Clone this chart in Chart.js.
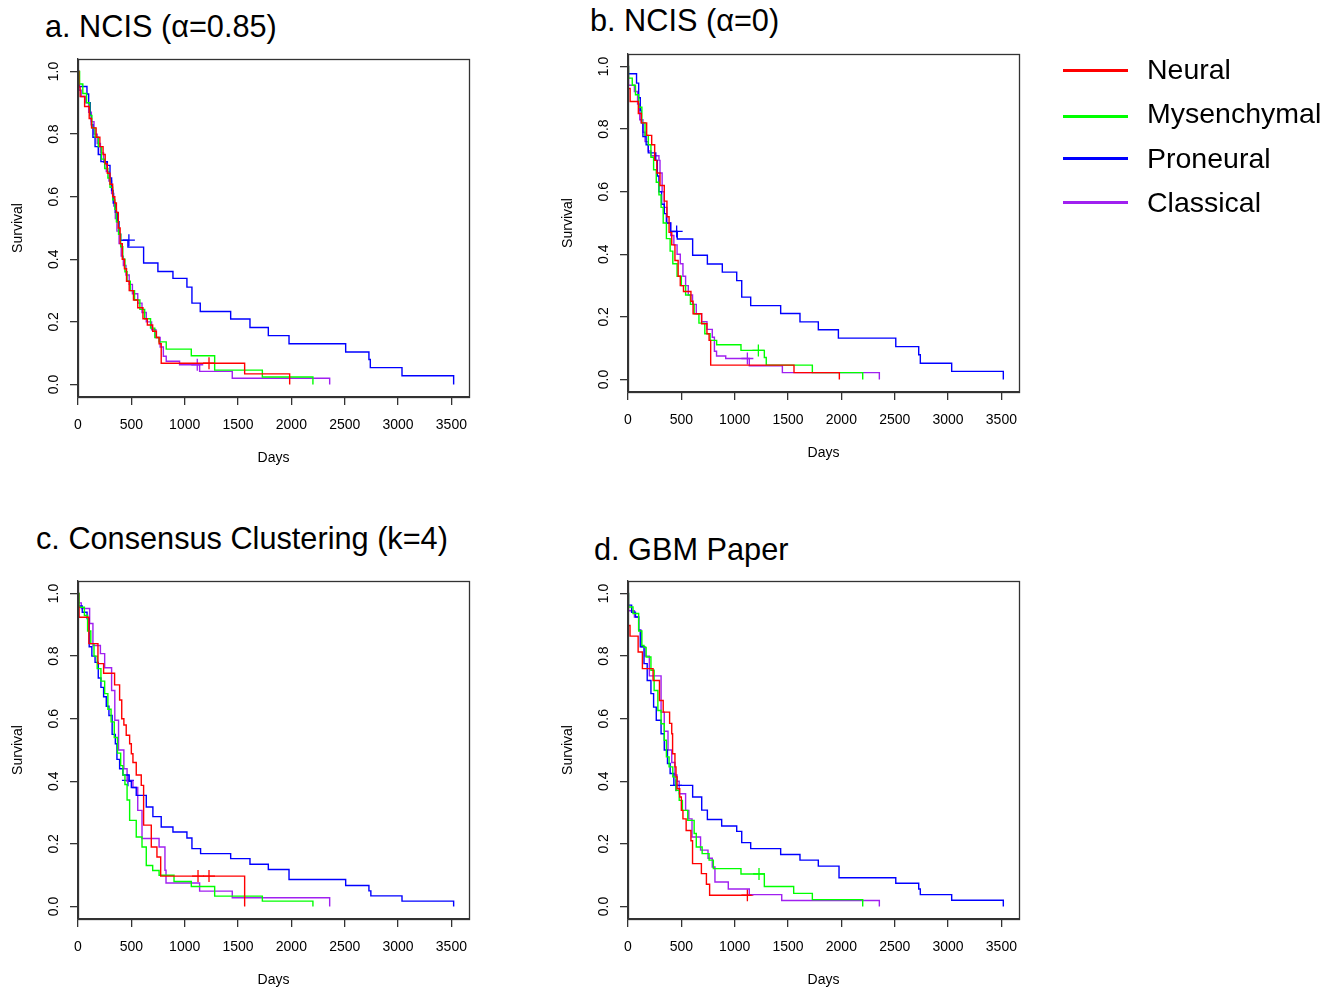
<!DOCTYPE html>
<html>
<head>
<meta charset="utf-8">
<script src="https://cdn.jsdelivr.net/npm/chart.js@4.4.0/dist/chart.umd.min.js"></script>
<style>
body { margin: 0; background: #fff; font-family: "Liberation Sans", Arial, sans-serif; }
#page { position: relative; width: 1341px; height: 989px; overflow: hidden; }
canvas { position: absolute; }
.ttl { position: absolute; font-size: 30.7px; line-height: 30px; color: #000; white-space: nowrap; }
.legline { position: absolute; left: 1063px; width: 65px; height: 3px; }
.legtxt { position: absolute; left: 1147px; font-size: 28.5px; line-height: 28.5px; color: #000; white-space: nowrap; }
</style>
</head>
<body>
<div id="page"></div>
<script>
// groups and colours
const groups = ['Neural', 'Mysenchymal', 'Proneural', 'Classical'];
const colors = ['#FF0000', '#00FF00', '#0000FF', '#A020F0'];
const titles = ['a. NCIS (\u03b1=0.85)', 'b. NCIS (\u03b1=0)', 'c. Consensus Clustering (k=4)', 'd. GBM Paper'];

const xTicks = [0, 500, 1000, 1500, 2000, 2500, 3000, 3500];
const yTicks = [0, 0.2, 0.4, 0.6, 0.8, 1.0];

// [days, survival] steps
// a. NCIS (alpha=0.85)
const aNeural = [[0,1],[8,0.95],[20,0.92],[62,0.888],[105,0.85],[127,0.82],[170,0.79],[205,0.76],[235,0.735],[255,0.705],[275,0.675],[300,0.64],[325,0.60],[345,0.58],[360,0.55],[378,0.50],[395,0.45],[415,0.40],[435,0.37],[455,0.33],[480,0.30],[520,0.27],[560,0.245],[609,0.21],[650,0.19],[700,0.17],[735,0.15],[760,0.13],[780,0.068],[1562,0.034],[1984,0]];
const aMys = [[0,1],[15,0.96],[45,0.93],[80,0.90],[110,0.86],[130,0.82],[160,0.79],[190,0.76],[220,0.72],[250,0.69],[280,0.66],[300,0.63],[325,0.59],[345,0.56],[360,0.52],[380,0.48],[400,0.44],[420,0.40],[440,0.36],[460,0.33],[490,0.30],[530,0.27],[580,0.24],[625,0.21],[680,0.18],[720,0.15],[760,0.136],[827,0.113],[1062,0.092],[1281,0.046],[1728,0.024],[2202,0]];
const aPro = [[0,1],[10,0.952],[84,0.928],[100,0.90],[115,0.86],[125,0.83],[140,0.79],[160,0.76],[190,0.735],[215,0.712],[275,0.70],[300,0.66],[315,0.62],[330,0.58],[350,0.55],[370,0.52],[385,0.48],[400,0.461],[468,0.439],[615,0.388],[749,0.361],[890,0.339],[1021,0.311],[1068,0.260],[1146,0.233],[1431,0.209],[1612,0.182],[1784,0.156],[1978,0.130],[2509,0.104],[2727,0.08],[2740,0.054],[3037,0.028],[3521,0]];
const aClass = [[0,1],[10,0.94],[30,0.92],[70,0.90],[100,0.87],[125,0.84],[150,0.80],[180,0.77],[210,0.74],[240,0.71],[265,0.68],[290,0.65],[315,0.61],[335,0.57],[350,0.53],[365,0.49],[385,0.45],[405,0.41],[425,0.38],[450,0.35],[480,0.32],[510,0.29],[560,0.26],[600,0.23],[640,0.20],[690,0.175],[730,0.15],[770,0.12],[800,0.09],[827,0.074],[952,0.063],[1140,0.042],[1446,0.020],[2359,0]];
const aCensor = [[[1228,0.068]], [], [[477,0.461]], [[1118,0.063]]];

// b. NCIS (alpha=0)
const bNeural = [[0,1],[3,0.93],[20,0.888],[97,0.85],[125,0.82],[175,0.78],[222,0.75],[250,0.70],[270,0.66],[300,0.62],[340,0.57],[365,0.52],[385,0.47],[410,0.43],[440,0.38],[470,0.33],[490,0.30],[520,0.281],[590,0.25],[610,0.21],[690,0.178],[740,0.146],[760,0.125],[775,0.046],[1556,0.022],[1981,0]];
const bMys = [[0,1],[5,0.963],[40,0.94],[70,0.91],[100,0.87],[130,0.82],[160,0.78],[190,0.75],[215,0.71],[240,0.67],[265,0.63],[290,0.59],[310,0.55],[330,0.50],[360,0.45],[395,0.41],[420,0.37],[460,0.33],[500,0.30],[540,0.27],[585,0.24],[620,0.21],[665,0.18],[720,0.146],[770,0.125],[831,0.111],[1059,0.093],[1278,0.07],[1296,0.046],[1728,0.022],[2200,0]];
const bPro = [[0,1],[3,0.977],[80,0.947],[100,0.90],[115,0.86],[125,0.82],[140,0.776],[170,0.75],[190,0.724],[260,0.70],[275,0.65],[290,0.60],[315,0.56],[340,0.53],[360,0.50],[400,0.473],[462,0.449],[606,0.397],[744,0.369],[884,0.343],[1019,0.316],[1066,0.263],[1150,0.236],[1431,0.211],[1612,0.184],[1784,0.159],[1972,0.132],[2510,0.105],[2725,0.079],[2740,0.052],[3034,0.026],[3518,0]];
const bClass = [[0,1],[5,0.94],[60,0.92],[90,0.88],[110,0.83],[140,0.79],[160,0.76],[190,0.73],[215,0.715],[290,0.70],[300,0.66],[320,0.60],[340,0.55],[365,0.50],[400,0.46],[430,0.43],[460,0.40],[490,0.37],[515,0.33],[540,0.30],[565,0.27],[605,0.24],[640,0.21],[690,0.185],[740,0.16],[790,0.135],[810,0.09],[830,0.075],[916,0.067],[1137,0.044],[1447,0.022],[2356,0]];
const bCensor = [[], [[1222,0.093]], [[456,0.473]], [[1119,0.067]]];

// c. Consensus Clustering (k=4)
const cNeural = [[0,1],[5,0.956],[10,0.924],[102,0.84],[187,0.776],[240,0.745],[343,0.708],[390,0.66],[410,0.60],[430,0.58],[452,0.547],[484,0.52],[500,0.488],[515,0.46],[546,0.42],[593,0.387],[615,0.26],[687,0.19],[740,0.158],[775,0.097],[1562,0]];
const cMys = [[0,1],[10,0.956],[60,0.93],[90,0.88],[120,0.84],[150,0.80],[180,0.76],[215,0.72],[250,0.68],[280,0.63],[310,0.59],[340,0.54],[370,0.49],[400,0.45],[421,0.42],[440,0.39],[460,0.34],[484,0.275],[546,0.222],[600,0.19],[640,0.131],[700,0.115],[760,0.10],[900,0.080],[1062,0.064],[1281,0.033],[1728,0.017],[2202,0]];
const cPro = [[0,1],[5,0.96],[40,0.94],[85,0.92],[105,0.83],[130,0.80],[160,0.78],[190,0.73],[215,0.70],[240,0.67],[265,0.64],[290,0.61],[320,0.55],[350,0.52],[365,0.47],[390,0.44],[421,0.42],[480,0.40],[500,0.38],[546,0.355],[640,0.318],[702,0.287],[780,0.254],[890,0.238],[1021,0.219],[1068,0.185],[1149,0.169],[1431,0.153],[1612,0.135],[1784,0.118],[1978,0.086],[2509,0.067],[2727,0.05],[2745,0.034],[3037,0.017],[3521,0]];
const cClass = [[0,1],[5,0.97],[31,0.952],[109,0.904],[140,0.834],[210,0.808],[250,0.763],[315,0.69],[345,0.595],[380,0.50],[430,0.44],[460,0.40],[515,0.38],[560,0.307],[600,0.217],[760,0.19],[815,0.116],[825,0.075],[1140,0.049],[1446,0.028],[2359,0]];
const cCensor = [[[1125,0.097],[1228,0.097]], [], [[468,0.403]], []];

// d. GBM Paper
const dNeural = [[0,1],[3,0.898],[19,0.864],[95,0.813],[135,0.760],[235,0.722],[295,0.658],[330,0.621],[390,0.585],[410,0.552],[418,0.488],[440,0.446],[450,0.414],[460,0.376],[485,0.35],[500,0.307],[515,0.28],[545,0.243],[590,0.21],[605,0.137],[688,0.105],[735,0.071],[765,0.036],[1159,0.036]];
const dMys = [[0,1],[5,0.957],[47,0.936],[100,0.88],[130,0.834],[150,0.828],[170,0.797],[215,0.755],[245,0.69],[280,0.626],[310,0.584],[340,0.531],[360,0.478],[385,0.446],[420,0.414],[450,0.371],[480,0.339],[510,0.307],[560,0.275],[620,0.233],[640,0.19],[695,0.169],[760,0.148],[800,0.121],[1059,0.104],[1278,0.064],[1553,0.042],[1728,0.022],[2200,0]];
const dPro = [[0,1],[3,0.963],[34,0.94],[70,0.925],[100,0.883],[115,0.83],[150,0.776],[180,0.722],[215,0.68],[240,0.637],[265,0.595],[310,0.552],[340,0.50],[370,0.457],[395,0.425],[430,0.387],[606,0.35],[691,0.308],[744,0.278],[878,0.257],[1019,0.240],[1066,0.204],[1150,0.185],[1431,0.166],[1612,0.148],[1784,0.129],[1978,0.092],[2510,0.074],[2725,0.056],[2740,0.038],[3034,0.020],[3518,0]];
const dClass = [[0,1],[5,0.945],[60,0.925],[100,0.883],[125,0.83],[160,0.80],[200,0.737],[310,0.621],[340,0.56],[375,0.50],[410,0.46],[440,0.42],[460,0.40],[480,0.36],[540,0.307],[570,0.28],[600,0.222],[680,0.18],[750,0.154],[790,0.126],[815,0.078],[940,0.056],[1137,0.038],[1441,0.019],[2356,0]];
const dCensor = [[[1119,0.036]], [[1228,0.104]], [[450,0.387]], []];

const panels = [
    { left: 0, top: 0, titleX: 45, titleY: 12, curves: [aNeural, aMys, aPro, aClass], censor: aCensor },
    { left: 550, top: -5, titleX: 590, titleY: 6, curves: [bNeural, bMys, bPro, bClass], censor: bCensor },
    { left: 0, top: 522, titleX: 36, titleY: 524, curves: [cNeural, cMys, cPro, cClass], censor: cCensor },
    { left: 550, top: 522, titleX: 594, titleY: 535, curves: [dNeural, dMys, dPro, dClass], censor: dCensor }
];

const page = document.getElementById('page');
const axisFont = { family: '"Liberation Sans", Arial, sans-serif', size: 14 };

// box round the plot region, like R's bty="o"
const boxPlugin = {
    id: 'box',
    afterDraw(chart) {
        const a = chart.chartArea;
        const c = chart.ctx;
        c.save();
        c.strokeStyle = '#333';
        c.lineWidth = 1.3;
        c.strokeRect(a.left + 0.5, a.top + 0.5, a.right - a.left, a.bottom - a.top);
        c.restore();
    }
};

panels.forEach((p, i) => {
    const t = document.createElement('div');
    t.className = 'ttl';
    t.style.left = p.titleX + 'px';
    t.style.top = p.titleY + 'px';
    t.textContent = titles[i];
    page.appendChild(t);

    const cv = document.createElement('canvas');
    cv.width = 545;
    cv.height = 480;
    cv.style.left = p.left + 'px';
    cv.style.top = p.top + 'px';
    page.appendChild(cv);

    const datasets = [];
    p.curves.forEach((pts, g) => {
        datasets.push({
            label: groups[g],
            data: pts.map(q => ({ x: q[0], y: q[1] })),
            stepped: true,
            borderColor: colors[g],
            borderWidth: 1.4,
            pointRadius: 0,
            fill: false
        });
    });
    p.censor.forEach((pts, g) => {
        if (!pts.length) return;
        datasets.push({
            label: groups[g] + ' censored',
            data: pts.map(q => ({ x: q[0], y: q[1] })),
            showLine: false,
            pointStyle: 'cross',
            pointRadius: 6,
            borderColor: colors[g],
            borderWidth: 1.3
        });
    });

    new Chart(cv.getContext('2d'), {
        type: 'line',
        data: { datasets: datasets },
        options: {
            responsive: false,
            animation: false,
            devicePixelRatio: 1,
            layout: { padding: { left: 0, top: 59, right: 76, bottom: 3 } },
            plugins: { legend: { display: false }, tooltip: { enabled: false } },
            scales: {
                x: {
                    type: 'linear',
                    min: 0,
                    max: 3665,
                    afterBuildTicks: s => { s.ticks = xTicks.map(v => ({ value: v })); },
                    afterFit: s => { s.height = 80; },
                    grid: { drawOnChartArea: false, tickLength: 8, color: '#333', lineWidth: 1.3 },
                    border: { color: '#333', width: 1.3 },
                    ticks: { color: '#000', font: axisFont, padding: 12, maxRotation: 0, autoSkip: false, callback: v => String(v) },
                    title: { display: true, text: 'Days', color: '#000', font: axisFont, padding: { top: 0, bottom: 10 } }
                },
                y: {
                    min: -0.04,
                    max: 1.04,
                    afterBuildTicks: s => { s.ticks = yTicks.map(v => ({ value: v })); },
                    afterFit: s => { s.width = 78; },
                    grid: { drawOnChartArea: false, tickLength: 8, color: '#333', lineWidth: 1.3 },
                    border: { color: '#333', width: 1.3 },
                    ticks: {
                        color: '#000', font: axisFont, padding: 6, autoSkip: false,
                        minRotation: 90, maxRotation: 90, crossAlign: 'center',
                        callback: v => v.toFixed(1)
                    },
                    title: { display: true, text: 'Survival', color: '#000', font: axisFont, padding: { top: 10, bottom: 0 } }
                }
            }
        },
        plugins: [boxPlugin]
    });
});

// legend on the right
const legendY = [70.7, 116, 158.3, 202.3];
const legendTextY = [68, 112, 157, 201];
groups.forEach((name, g) => {
    const ln = document.createElement('div');
    ln.className = 'legline';
    ln.style.top = (legendY[g] - 1.5) + 'px';
    ln.style.background = colors[g];
    page.appendChild(ln);
    const tx = document.createElement('div');
    tx.className = 'legtxt';
    tx.style.top = (legendTextY[g] - 13.5) + 'px';
    tx.textContent = name;
    page.appendChild(tx);
});
</script>
</body>
</html>
